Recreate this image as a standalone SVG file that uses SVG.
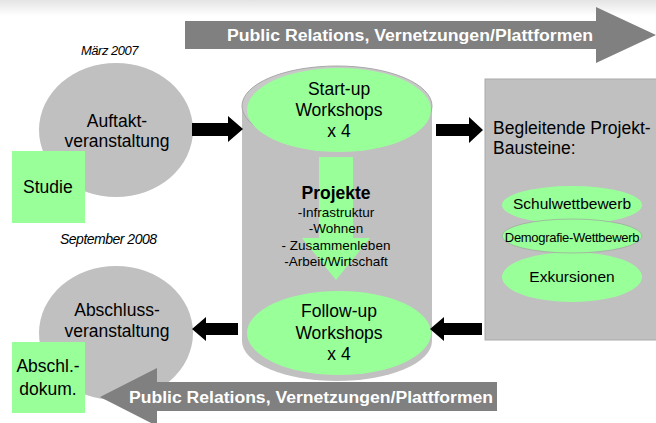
<svg xmlns="http://www.w3.org/2000/svg" width="656" height="423" viewBox="0 0 656 423">
<defs>
<linearGradient id="band" x1="0" y1="0" x2="0" y2="1">
<stop offset="0" stop-color="#e4e4e4"/>
<stop offset="1" stop-color="#ffffff"/>
</linearGradient>
</defs>
<style>
text{font-family:"Liberation Sans",Arial,sans-serif;fill:#000}
.t16{font-size:17.5px}
.t12{font-size:13.5px}
.it{font-style:italic;letter-spacing:-0.5px}
.pr{font-size:16px;font-weight:bold;fill:#fff}
.gray{fill:#c0c0c0}
.green{fill:#99ff99}
.bigarrow{fill:#808080}
.blk{fill:#000}
</style>
<rect x="0" y="0" width="656" height="16" fill="url(#band)"/>

<g id="pr-top">
<polygon class="bigarrow" points="185,21 596,21 596,7 656,35 596,63 596,49 185,49"/>
<text class="pr" x="227" y="41" textLength="366" lengthAdjust="spacingAndGlyphs">Public Relations, Vernetzungen/Plattformen</text>
</g>

<g id="maerz">
<text class="it" x="81" y="55" style="font-size:13px">März 2007</text>
</g>

<g id="auftakt">
<ellipse class="gray" cx="116" cy="130" rx="77" ry="67"/>
<text class="t16" text-anchor="middle" x="117" y="127">Auftakt-</text>
<text class="t16" text-anchor="middle" x="117" y="147">veranstaltung</text>
</g>

<g id="studie">
<rect class="green" x="12" y="151" width="73" height="72"/>
<text class="t16" x="23" y="193">Studie</text>
</g>

<g id="september">
<text class="it" x="60" y="244" style="font-size:14px">September 2008</text>
</g>

<g id="abschluss">
<ellipse class="gray" cx="116" cy="333" rx="77" ry="67"/>
<text class="t16" text-anchor="middle" x="117" y="316">Abschluss-</text>
<text class="t16" text-anchor="middle" x="117" y="337">veranstaltung</text>
</g>

<g id="abschl-dokum">
<rect class="green" x="12" y="342" width="73" height="71"/>
<text class="t16" text-anchor="middle" x="48" y="372">Abschl.-</text>
<text class="t16" text-anchor="middle" x="48" y="395">dokum.</text>
</g>

<g id="cylinder">
<path class="gray" d="M242,106 L242,341 A95,40 0 0 0 432,341 L432,106 Z"/>
<ellipse cx="337" cy="106" rx="95" ry="40" fill="#c8c8c8" stroke="#a8a8a8" stroke-width="1"/>
<polygon class="green" points="319,157 353,157 353,238 370,238 336,280 302,238 319,238"/>
<text x="336" y="199" text-anchor="middle" style="font-size:17.5px;font-weight:bold">Projekte</text>
<text class="t12" x="336" y="217" text-anchor="middle">-Infrastruktur</text>
<text class="t12" x="336" y="233" text-anchor="middle">-Wohnen</text>
<text class="t12" x="336" y="250" text-anchor="middle">- Zusammenleben</text>
<text class="t12" x="336" y="266" text-anchor="middle">-Arbeit/Wirtschaft</text>
</g>

<g id="startup">
<ellipse class="green" cx="339" cy="110" rx="92" ry="42"/>
<text class="t16" x="339" y="95" text-anchor="middle">Start-up</text>
<text class="t16" x="339" y="116" text-anchor="middle">Workshops</text>
<text class="t16" x="339" y="137" text-anchor="middle">x 4</text>
</g>

<g id="followup">
<ellipse class="green" cx="339" cy="333" rx="92" ry="42"/>
<text class="t16" x="339" y="317" text-anchor="middle">Follow-up</text>
<text class="t16" x="339" y="339" text-anchor="middle">Workshops</text>
<text class="t16" x="339" y="360" text-anchor="middle">x 4</text>
</g>

<g id="bausteine">
<rect class="gray" x="485" y="79" width="175" height="261" stroke="#aaaaaa" stroke-width="1"/>
<text class="t16" x="493" y="134">Begleitende Projekt-</text>
<text class="t16" x="493" y="154">Bausteine:</text>
</g>

<g id="schulwettbewerb">
<ellipse class="green" cx="572" cy="205" rx="70" ry="19"/>
<text x="572" y="209" text-anchor="middle" style="font-size:15.5px">Schulwettbewerb</text>
</g>
<g id="exkursionen">
<ellipse class="green" cx="572" cy="277" rx="70" ry="25"/>
<text x="572" y="282" text-anchor="middle" style="font-size:15.5px">Exkursionen</text>
</g>
<g id="demografie">
<ellipse class="green" cx="572" cy="236" rx="70" ry="17" stroke="#a0a0a0" stroke-width="0.7"/>
<text x="572" y="242" text-anchor="middle" style="font-size:13px;letter-spacing:-0.3px">Demografie-Wettbewerb</text>
</g>

<g id="connectors">
<polygon class="blk" points="192,123 228,123 228,116 243,129 228,142 228,136 192,136"/>
<polygon class="blk" points="436,124 469,124 469,117 483,130 469,143 469,136 436,136"/>
<polygon class="blk" points="482,323 444,323 444,317 430,329 444,341 444,335 482,335"/>
<polygon class="blk" points="238,323 206,323 206,317 192,329 206,341 206,335 238,335"/>
</g>

<g id="pr-bottom">
<polygon class="bigarrow" points="497,382 157,382 157,368 100,397 157,426 157,411 497,411"/>
<text class="pr" x="129" y="403" textLength="364" lengthAdjust="spacingAndGlyphs">Public Relations, Vernetzungen/Plattformen</text>
</g>
</svg>
